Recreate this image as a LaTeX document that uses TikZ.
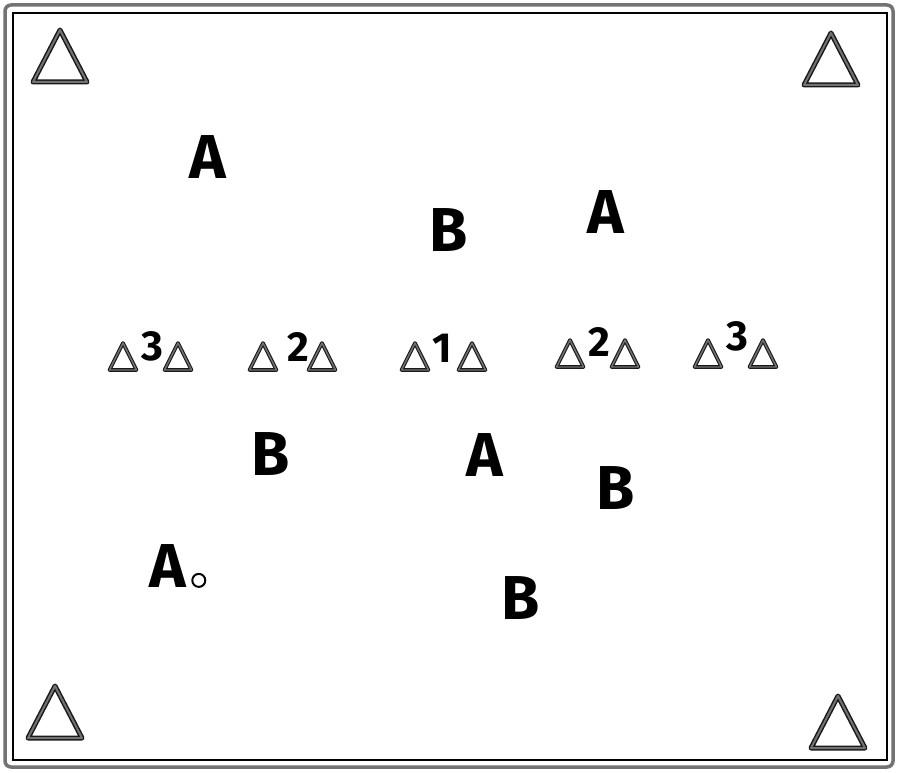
\documentclass[tikz,border=0pt]{standalone}
\usepackage{fontspec}
\setmainfont{Fira Sans}
\usetikzlibrary{positioning}

\begin{document}
\begin{tikzpicture}[x = 1pt, y = -1pt,
	player/.style = {inner sep = 0pt, font = \bfseries\fontsize{62}{62}\selectfont},
	number/.style = {inner sep = 0pt, font = \bfseries\fontsize{42}{42}\selectfont},
	marker/.style = {draw = black!90, double = black!55, line join = round}]

	\useasboundingbox (0, 0) rectangle (900, 773);

	% The pitch outline

	\draw [black!55, line width = 3.5pt, rounded corners = 6pt] (5, 5) rectangle (893, 767);
	\draw [line width = 1.2pt] (13, 13) rectangle (887, 760);

	% Corner markers

	\foreach \x/\y in {60/82, 831/85, 55/738, 838/748}
	{
		\draw [marker, line width = 1.5pt, double distance = 2pt] (\x - 27, \y) -- (\x, \y - 52) -- (\x + 27, \y) -- cycle;
	}

	% Gates of small markers with their numbers

	\foreach \l/\r/\y/\n/\nx/\ny in {123/178/370/3/152/346, 263/322/370/2/298/347, 415/472/370/1/442/348, 570/625/367/2/599/342, 708/763/367/3/737/336}
	{
		\draw [marker, line width = 1.1pt, double distance = 1.4pt] (\l - 13.5, \y) -- (\l, \y - 27) -- (\l + 13.5, \y) -- cycle;
		\draw [marker, line width = 1.1pt, double distance = 1.4pt] (\r - 13.5, \y) -- (\r, \y - 27) -- (\r + 13.5, \y) -- cycle;
		\node [number] at (\nx, \ny) {\n};
	}

	% Players

	\node [player] (a1) at (208, 157) {A};
	\node [player] (b1) at (449, 230) {B};
	\node [player] (a2) at (606, 212) {A};
	\node [player] (b2) at (271, 454) {B};
	\node [player] (a3) at (485, 455) {A};
	\node [player] (b3) at (616, 488) {B};
	\node [player] (a4) at (168, 566) {A};
	\node [player] (b4) at (521, 598) {B};

	% Ball

	\node [draw, circle, line width = 2pt, minimum size = 13pt, inner sep = 0pt, right = 7pt of a4.south east, anchor = south west, yshift = 2pt] (ball) {};

\end{tikzpicture}
\end{document}
